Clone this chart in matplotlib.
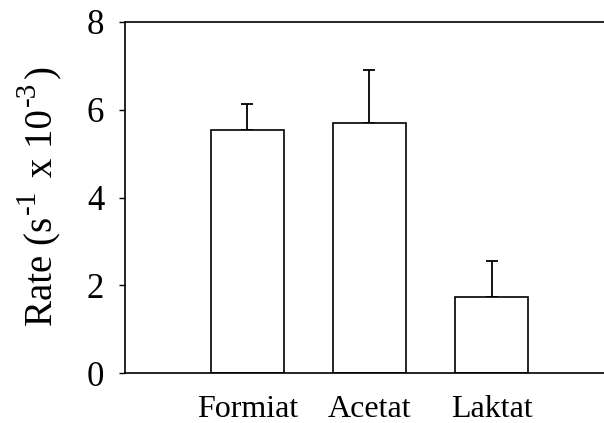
import matplotlib
matplotlib.use("Agg")
import matplotlib.pyplot as plt

categories = ["Formiat", "Acetat", "Laktat"]
rates = [5.54, 5.70, 1.73]
errors = [0.59, 1.20, 0.82]
yticks = [0, 2, 4, 6, 8]
ylabel_parts = [("Rate (s", False), ("-1", True), (" x 10", False), ("-3", True), (")", False)]

plt.rcParams['font.family'] = ['Liberation Serif', 'DejaVu Serif']

W, H = 604, 423
fig = plt.figure(figsize=(W / 100, H / 100), dpi=100)
ax = fig.add_axes([0.207, 0.118, 0.793, 0.830])

x = [1, 2, 3]
ax.bar(x, rates, width=0.6, color='white', edgecolor='black', linewidth=1.2, zorder=2)
ax.errorbar(x, rates, yerr=[[0]*3, errors], fmt='none', ecolor='black',
            elinewidth=1.3, capsize=4, capthick=1.3, zorder=1)

ax.set_xlim(0, 3.92)
ax.set_ylim(0, 8)
ax.set_yticks(yticks)
ax.set_xticks(x)
ax.set_xticklabels(categories, fontsize=23)
ax.tick_params(axis='x', length=0, pad=16)
ax.tick_params(axis='y', labelsize=25, length=4, width=1, direction='out', pad=11)
for s in ['left', 'top', 'bottom']:
    ax.spines[s].set_linewidth(1.2)
ax.spines['right'].set_visible(False)

# y label built from pieces so the superscripts are large, as in the original
fig.canvas.draw()
renderer = fig.canvas.get_renderer()
base_x = 52.0      # baseline, pixels from left
sup_x = 35.0       # superscript baseline
ypos = H - 326.0   # start (bottom) in pixels from bottom
for txt, sup in ylabel_parts:
    t = fig.text((sup_x if sup else base_x) / W, ypos / H, txt,
                 fontsize=21 if sup else 28, rotation=90, rotation_mode='anchor',
                 ha='left', va='baseline')
    bb = t.get_window_extent(renderer)
    ypos += bb.height + 3

fig.savefig("out.png", dpi=100)
